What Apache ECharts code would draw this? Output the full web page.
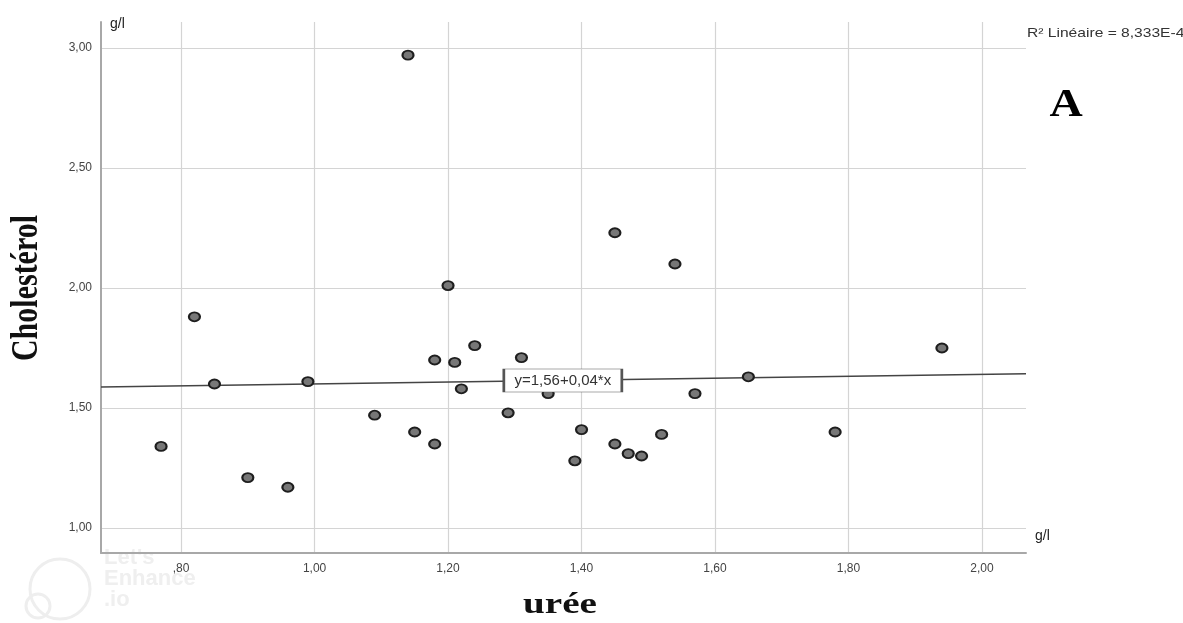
<!DOCTYPE html>
<html>
<head>
<meta charset="utf-8">
<script src="https://cdn.jsdelivr.net/npm/echarts@6/dist/echarts.min.js"></script>
<style>
html,body{margin:0;padding:0;background:#fff;}
#chart{width:1183px;height:623px;}
</style>
</head>
<body>
<div id="chart"></div>
<script>
// Data: urée (g/l) vs cholestérol (g/l)
var uree = [0.77, 0.82, 0.85, 0.90, 0.96, 0.99, 1.09, 1.14, 1.15, 1.18, 1.18, 1.20, 1.21, 1.22, 1.24, 1.29, 1.31, 1.35, 1.39, 1.40, 1.45, 1.45, 1.47, 1.49, 1.52, 1.54, 1.57, 1.65, 1.78, 1.94];
var cholesterol = [1.34, 1.88, 1.60, 1.21, 1.17, 1.61, 1.47, 2.97, 1.40, 1.70, 1.35, 2.01, 1.69, 1.58, 1.76, 1.48, 1.71, 1.56, 1.28, 1.41, 2.23, 1.35, 1.31, 1.30, 1.39, 2.10, 1.56, 1.63, 1.40, 1.75];
var xTicks = [0.80, 1.00, 1.20, 1.40, 1.60, 1.80, 2.00];
var yTicks = [1.00, 1.50, 2.00, 2.50, 3.00];
var intercept = 1.56;
var slope = 0.04;
var fitLabel = 'y=1,56+0,04*x';
var r2Label = 'R² Linéaire = 8,333E-4';
var xTitle = 'urée';
var yTitle = 'Cholestérol';
var unitLabel = 'g/l';
var panelLabel = 'A';

var xMin = 0.68, xMax = 2.066, yMin = 0.896, yMax = 3.108;

function fmt(v) {
  var s = v.toFixed(2).replace('.', ',');
  if (s.indexOf('0,') === 0) s = s.substring(1);
  return s;
}

var points = uree.map(function (x, i) { return [x, cholesterol[i]]; });
var fitLine = [[xMin, intercept + slope * xMin], [xMax, intercept + slope * xMax]];
var labelX = 1.372;

var chart = echarts.init(document.getElementById('chart'));
chart.setOption({
  animation: false,
  backgroundColor: '#ffffff',
  grid: { left: 101, right: 157, top: 22, bottom: 70, containLabel: false, outerBoundsMode: 'none' },
  xAxis: {
    type: 'value', min: xMin, max: xMax,
    axisLine: { show: true, onZero: false, lineStyle: { color: '#a8a8a8', width: 2 } },
    axisTick: { show: false, customValues: xTicks },
    axisLabel: { customValues: xTicks, formatter: fmt, color: '#444', fontSize: 12, fontFamily: 'Liberation Sans', margin: 10 },
    splitLine: { show: true, lineStyle: { color: '#d4d4d4', width: 1.2 } }
  },
  yAxis: {
    type: 'value', min: yMin, max: yMax,
    axisLine: { show: true, onZero: false, lineStyle: { color: '#a8a8a8', width: 2 } },
    axisTick: { show: false, customValues: yTicks },
    axisLabel: { customValues: yTicks, formatter: fmt, color: '#444', fontSize: 12, fontFamily: 'Liberation Sans', margin: 9 },
    splitLine: { show: true, lineStyle: { color: '#d4d4d4', width: 1.2 } }
  },
  series: [
    {
      type: 'line', data: fitLine, symbol: 'none', silent: true,
      lineStyle: { color: '#444', width: 1.5 }, z: 2,
      markPoint: {
        symbol: 'rect', symbolSize: [118, 23],
        itemStyle: { color: '#fff', borderColor: '#555', borderWidth: 1.2 },
        label: { show: true, position: 'inside', formatter: fitLabel, color: '#333', fontSize: 15, fontFamily: 'Liberation Sans' },
        data: [{ coord: [labelX, intercept + slope * labelX] }]
      }
    },
    {
      type: 'scatter', data: points, symbol: 'circle', symbolSize: [11, 9], z: 3,
      itemStyle: { color: '#777', borderColor: '#1e1e1e', borderWidth: 2, opacity: 1 }
    }
  ],
  graphic: [
    { type: 'text', x: 27, y: 288, rotation: Math.PI / 2, scaleY: 1.25, style: { text: yTitle, fontSize: 30, fontWeight: 'bold', fontFamily: 'Liberation Serif', fill: '#111', align: 'center', verticalAlign: 'middle' } },
    { type: 'text', x: 560, y: 606, scaleX: 1.35, style: { text: xTitle, fontSize: 29, fontWeight: 'bold', fontFamily: 'Liberation Serif', fill: '#111', align: 'center', verticalAlign: 'middle' } },
    { type: 'text', left: 110, top: 17, style: { text: unitLabel, fontSize: 14, fontFamily: 'Liberation Sans', fill: '#222' } },
    { type: 'text', left: 1035, top: 529, style: { text: unitLabel, fontSize: 14, fontFamily: 'Liberation Sans', fill: '#222' } },
    { type: 'text', x: 1027, y: 33, scaleX: 1.2, style: { text: r2Label, fontSize: 13, fontFamily: 'Liberation Sans', fill: '#333', verticalAlign: 'middle' } },
    { type: 'text', x: 1066, y: 106, scaleX: 1.15, style: { text: panelLabel, fontSize: 40, fontWeight: 'bold', fontFamily: 'Liberation Serif', fill: '#000', align: 'center', verticalAlign: 'middle' } },
    { type: 'circle', shape: { cx: 60, cy: 589, r: 30 }, style: { fill: 'none', stroke: '#eeeeee', lineWidth: 3 }, silent: true },
    { type: 'circle', shape: { cx: 38, cy: 606, r: 12 }, style: { fill: 'none', stroke: '#eeeeee', lineWidth: 3 }, silent: true },
    { type: 'text', left: 104, top: 547, style: { text: "Let's\nEnhance\n.io", fontSize: 22, lineHeight: 21, fontWeight: 'bold', fontFamily: 'Liberation Sans', fill: '#efefef' }, silent: true, z: -1 }
  ]
});
</script>
</body>
</html>
